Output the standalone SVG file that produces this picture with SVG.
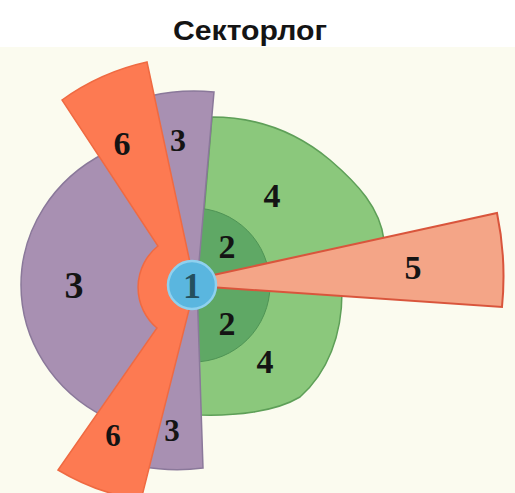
<svg xmlns="http://www.w3.org/2000/svg" width="515" height="493" viewBox="0 0 515 493">
<style>
.lbl{font-family:"Liberation Serif","Times New Roman",serif;font-weight:bold;fill:#141414;text-anchor:middle}
.title{font-family:"Liberation Sans",Arial,sans-serif;font-weight:bold;fill:#141414;text-anchor:middle}
</style>
<rect x="0" y="0" width="515" height="493" fill="#ffffff"/>
<rect x="0" y="47" width="515" height="446" fill="#fbfbef"/>
<text class="title" x="250" y="40" font-size="28" textLength="154" lengthAdjust="spacingAndGlyphs">Секторлог</text>
<g id="zone4">
<path d="M198,285 L212,117 C260,117 300,135 330,160 C358,184 380,208 384,240 L392,260 L342,292 C342,335 328,372 300,397 C275,412 235,416 200,415 Z" fill="#8bc87c" stroke="#5e9f58" stroke-width="1.5"/>
</g>
<g id="zone2">
<circle cx="193" cy="285" r="77" fill="#5fa865" stroke="#4f9455" stroke-width="1"/>
</g>
<g id="zone3">
<path d="M197,285 L214,92 A194 194 0 0 0 150,96 L105,153 A160 150 0 0 0 105,417 L140,466 A185 185 0 0 0 203,468 Z" fill="#a890b2" stroke="#8a789a" stroke-width="1.5"/>
</g>
<g id="zone6">
<path d="M195,286 L147,62 A230 230 0 0 0 62,100 L158,246 A53 53 0 0 0 157,328 L58,470 A230 230 0 0 0 141,500 Z" fill="#fd7a52" stroke="#ef6a42" stroke-width="1.5"/>
</g>
<g id="zone5">
<path d="M195,279 L497,213 A312 312 0 0 1 502,307 L195,286 Z" fill="#f4a587" stroke="#d9553c" stroke-width="2"/>
</g>
<g id="zone1">
<circle cx="192" cy="285" r="24" fill="#5ab6df" stroke="#8fd1ef" stroke-width="2.5"/>
</g>
<g id="labels">
<text class="lbl" x="122" y="155" font-size="34">6</text>
<text class="lbl" x="178" y="151" font-size="32">3</text>
<text class="lbl" x="272" y="207" font-size="34">4</text>
<text class="lbl" x="227" y="258" font-size="34">2</text>
<text class="lbl" x="74" y="298" font-size="38">3</text>
<text class="lbl" x="413" y="279" font-size="34">5</text>
<text class="lbl" x="227" y="335" font-size="34">2</text>
<text class="lbl" x="265" y="373" font-size="34">4</text>
<text class="lbl" x="113" y="446" font-size="31">6</text>
<text class="lbl" x="172" y="441" font-size="31">3</text>
<text class="lbl" x="192" y="298" font-size="36" style="fill:#24505e">1</text>
</g>
</svg>
